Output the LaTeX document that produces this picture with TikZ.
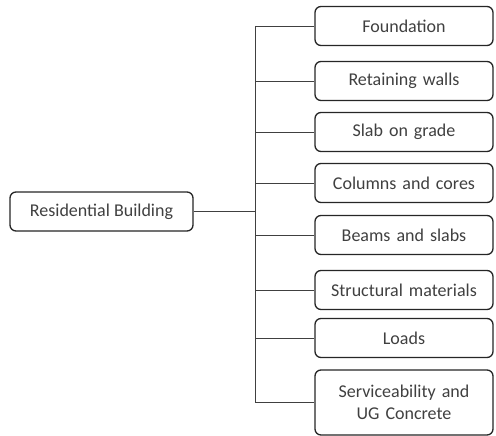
\documentclass[tikz,border=0pt]{standalone}
\usepackage{fontspec}
\setmainfont{Carlito}
\begin{document}
\begin{tikzpicture}[x=1pt,y=-1pt,
  box/.style={draw=black!85, line width=1.3pt, rounded corners=6pt, fill=white,
    minimum height=39pt, align=center, inner sep=2pt,
    font=\fontsize{18}{22}\selectfont, text=black!75},
  leaf/.style={box, minimum width=178pt, text width=170pt},
  conn/.style={draw=black!75, line width=0.9pt}]
\useasboundingbox (0,0) rectangle (496,436);
\node[box, minimum width=183pt] (root) at (101.5,211.5) {Residential Building};
\node[leaf] (b1) at (404,26) {Foundation};
\node[leaf] (b2) at (404,81) {Retaining walls};
\node[leaf] (b3) at (404,132) {Slab on grade};
\node[leaf] (b4) at (404,183) {Columns and cores};
\node[leaf] (b5) at (404,235) {Beams and slabs};
\node[leaf] (b6) at (404,290) {Structural materials};
\node[leaf] (b7) at (404,338) {Loads};
\node[leaf, minimum height=65pt] (b8) at (404,402.5) {Serviceability and\\UG Concrete};
\coordinate (tr) at (255,0);
\draw[conn] (root.east) -- (tr |- root.east);
\draw[conn] (tr |- b1.west) -- (tr |- b8.west);
\foreach \i in {1,...,8} {\draw[conn] (tr |- b\i.west) -- (b\i.west);}
\end{tikzpicture}
\end{document}
